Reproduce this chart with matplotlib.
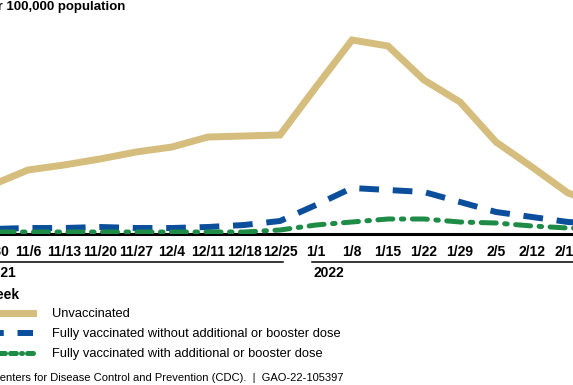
import matplotlib
matplotlib.use("Agg")
import matplotlib.pyplot as plt
from matplotlib.lines import Line2D

plt.rcParams['font.family'] = ['Liberation Sans', 'DejaVu Sans']

weeks = ['10/30', '11/6', '11/13', '11/20', '11/27', '12/4', '12/11', '12/18', '12/25',
         '1/1', '1/8', '1/15', '1/22', '1/29', '2/5', '2/12', '2/19', '2/26']
unvacc = [1225, 1600, 1725, 1875, 2050, 2175, 2425, 2450, 2475,
          3675, 4850, 4700, 3850, 3300, 2300, 1675, 1025, 700]
no_boost = [125, 150, 150, 175, 150, 150, 175, 225, 325,
            725, 1150, 1100, 1050, 800, 550, 425, 300, 250]
boost = [50, 50, 50, 50, 50, 50, 50, 50, 100,
         225, 300, 375, 375, 300, 275, 200, 150, 125]
labels = ['Unvaccinated',
          'Fully vaccinated without additional or booster dose',
          'Fully vaccinated with additional or booster dose']

W, H = 573, 385
def fx(px):
    return px / W
def fy(py):
    return 1 - py / H

fig = plt.figure(figsize=(5.73, 3.85), dpi=100)
# axes runs past both edges of the figure (the picture is a crop)
ax = fig.add_axes([fx(-60), fy(234), fx(700), (234 - 20) / H])
x = list(range(len(weeks)))

tan = '#D5BD7E'
blue = '#0B4F9C'
green = '#1E8C46'
l1, = ax.plot(x, unvacc, color=tan, lw=5, solid_joinstyle='miter', zorder=3)
l2, = ax.plot(x, no_boost, color=blue, lw=4.3, dashes=(3.3, 2.3), zorder=3)
l3, = ax.plot(x, boost, color=green, lw=3.6, dashes=(3.0, 1.7, 0.5, 1.7),
              dash_capstyle='round', zorder=4)

ax.set_xlim((-60 + 8) / 36, (640 + 8) / 36)
ax.set_ylim(0, 5350)
ax.set_xticks(x)
ax.set_xticklabels(weeks, fontsize=10, fontweight='bold')
ax.tick_params(axis='x', length=0, pad=8)
ax.set_yticks([])
for s in ['left', 'right', 'top']:
    ax.spines[s].set_visible(False)
ax.spines['bottom'].set_linewidth(2.2)
ax.spines['bottom'].set_color('black')

# year group lines and labels
fig.add_artist(Line2D([fx(-40), fx(283)], [fy(262), fy(262)], color='black', lw=1.1))
fig.add_artist(Line2D([fx(312), fx(640)], [fy(262), fy(262)], color='black', lw=1.1))
fig.text(fx(-14), fy(273), '2021', fontsize=10, fontweight='bold', va='center', ha='left')
fig.text(fx(313), fy(273), '2022', fontsize=10, fontweight='bold', va='center', ha='left')

fig.text(fx(125), fy(7), 'Rate per 100,000 population', fontsize=9.5, fontweight='bold',
         va='center', ha='right')
fig.text(fx(-16), fy(295), 'Week', fontsize=10, fontweight='bold', va='center', ha='left')

h1 = Line2D([], [], color=tan, lw=5)
h2 = Line2D([], [], color=blue, lw=4.3, linestyle=(2.5, (3.3, 2.3)))
h3 = Line2D([], [], color=green, lw=3.6, linestyle=(0, (1.2, 1.0, 1.2, 1.0, 0.2, 1.0)),
            dash_capstyle='round')
fig.legend(handles=[h1, h2, h3], labels=labels, loc='upper left',
           bbox_to_anchor=(fx(-17), fy(308)),
           frameon=False, fontsize=9.3, handlelength=3.9, handletextpad=1.45,
           labelspacing=0.62, borderpad=0, borderaxespad=0)

fig.text(fx(343), fy(378), 'Source: Centers for Disease Control and Prevention (CDC).  |  GAO-22-105397',
         fontsize=8.0, va='center', ha='right')

fig.savefig('out.png', dpi=100)
